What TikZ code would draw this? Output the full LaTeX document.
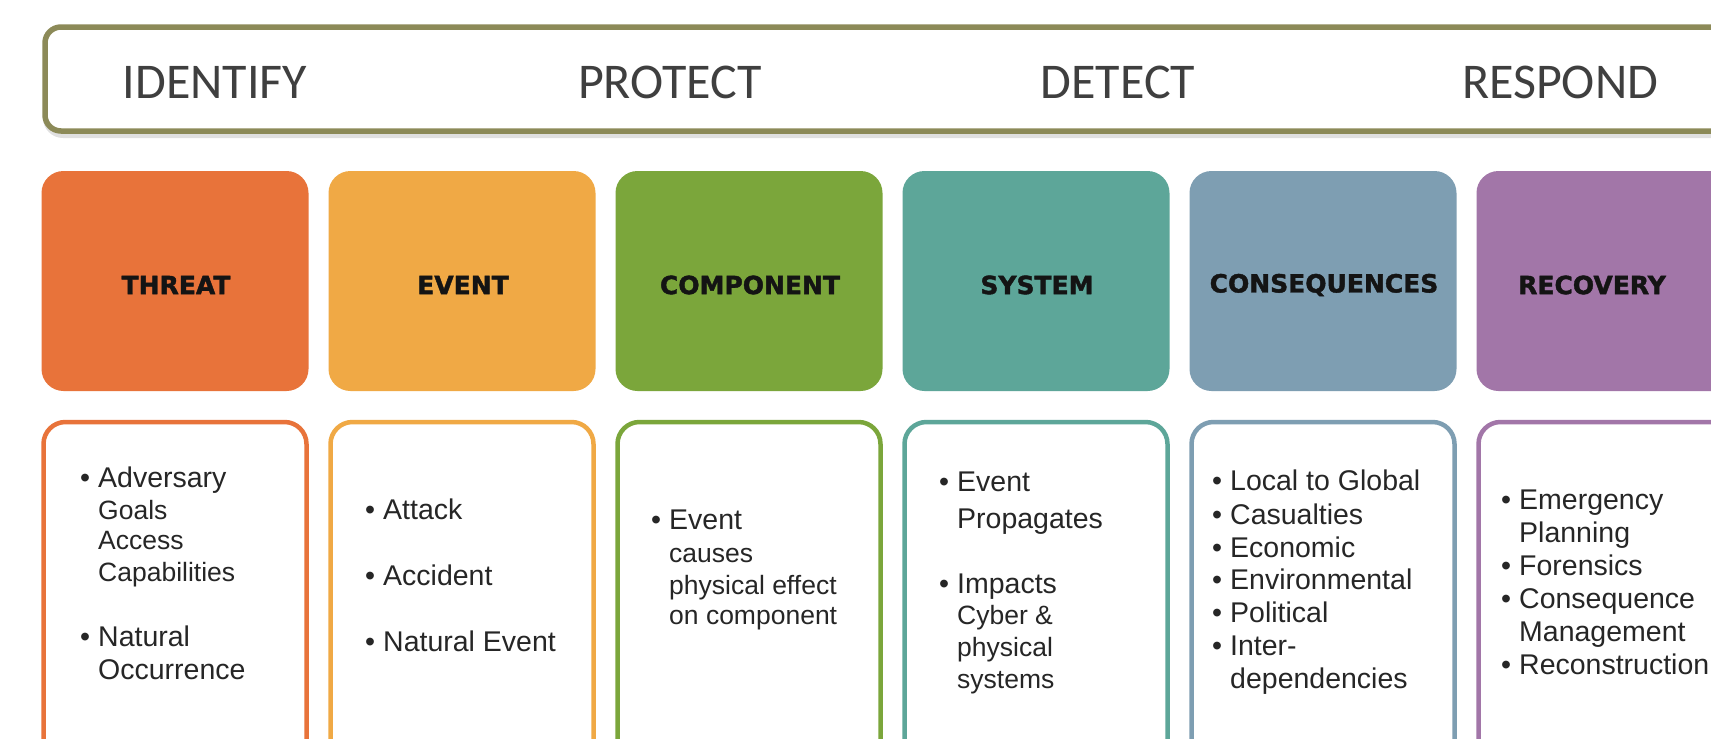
\documentclass[tikz,border=0pt]{standalone}
\usepackage{fontspec}
\setmainfont{Liberation Sans}
\newfontfamily\bandfont{Carlito}
\newfontfamily\headfont{DejaVu Sans Bold}[FakeBold=1.6]

\definecolor{cthreat}{HTML}{E8733A}
\definecolor{cevent}{HTML}{F0A945}
\definecolor{ccomp}{HTML}{7BA63B}
\definecolor{csys}{HTML}{5DA699}
\definecolor{ccons}{HTML}{7E9EB2}
\definecolor{crec}{HTML}{A276A8}
\definecolor{cband}{HTML}{8C8A58}
\definecolor{cbandtxt}{HTML}{3F3F3F}
\definecolor{cbody}{HTML}{262626}
\definecolor{chead}{HTML}{141414}

\newcommand\bul{\llap{•\hspace{8pt}}}

\tikzset{
  band/.style={draw=cband, line width=5.5pt, rounded corners=16pt, fill=white,
    minimum width=1715pt, minimum height=104pt, inner sep=0pt},
  bandlabel/.style={font=\bandfont\fontsize{50}{50}\selectfont, text=cbandtxt, inner sep=0pt},
  headbox/.style={rounded corners=22pt, minimum width=267pt, minimum height=220pt,
    inner sep=0pt},
  headlabel/.style={inner sep=0pt, font=\headfont\fontsize{25}{25}\selectfont, text=chead},
  listbox/.style={draw, line width=4.5pt, rounded corners=22pt, fill=white,
    minimum width=263pt, minimum height=380pt, inner sep=0pt},
  ln/.style={anchor=base west, inner sep=0pt, text=cbody,
    font=\fontsize{28.5}{33}\selectfont},
  sub/.style={anchor=base west, inner sep=0pt, text=cbody,
    font=\fontsize{26.5}{31}\selectfont},
}

\begin{document}
\begin{tikzpicture}[x=1pt, y=-1pt]
\useasboundingbox (0,0) rectangle (1711,739);
\clip (0,0) rectangle (1711,739);
\fill[white] (0,0) rectangle (1711,739);

% framework band with its soft shadow
\draw[black, opacity=0.12, line width=8pt, rounded corners=16pt]
  (47,30) rectangle (1762,134);
\node[band] (band) at (902.5,79) {};
\node[bandlabel] (identify) at (215,82) {IDENTIFY};
\node[bandlabel] (protect)  at (670,82) {PROTECT};
\node[bandlabel] (detect)   at (1118,82) {DETECT};
\node[bandlabel] (respond)  at (1560,82) {RESPOND};

% coloured stage headers
\node[headbox, fill=cthreat] (threat) at (175,281) {};
\node[headbox, fill=cevent]  (event)  at (462,281) {};
\node[headbox, fill=ccomp]   (comp)   at (749,281) {};
\node[headbox, fill=csys]    (sys)    at (1036,281) {};
\node[headbox, fill=ccons]   (cons)   at (1323,281) {};
\node[headbox, fill=crec]    (rec)    at (1610,281) {};

\node[headlabel] (threatlbl) at (176,285) {THREAT};
\node[headlabel] (eventlbl)  at (463,285) {EVENT};
\node[headlabel] (complbl)   at (750,285) {COMPONENT};
\node[headlabel] (syslbl)    at (1037,285) {SYSTEM};
\node[headlabel] (conslbl)   at (1324,285) {CONSEQUENCES};
\node[headlabel] (reclbl)    at (1592,285) {RECOVERY};

% outlined detail boxes
\node[listbox, draw=cthreat] (threatlist) at (175,612) {};
\node[listbox, draw=cevent]  (eventlist)  at (462,612) {};
\node[listbox, draw=ccomp]   (complist)   at (749,612) {};
\node[listbox, draw=csys]    (syslist)    at (1036,612) {};
\node[listbox, draw=ccons]   (conslist)   at (1323,612) {};
\node[listbox, draw=crec]    (reclist)    at (1610,612) {};

% threat
\node[ln]  (t1) at (98,487) {\bul Adversary};
\node[sub] (t2) at (98,519) {Goals};
\node[sub] (t3) at (98,549) {Access};
\node[sub] (t4) at (98,581) {Capabilities};
\node[ln]  (t5) at (98,646) {\bul Natural};
\node[ln]  (t6) at (98,679) {Occurrence};

% event
\node[ln] (e1) at (383,519) {\bul Attack};
\node[ln] (e2) at (383,585) {\bul Accident};
\node[ln] (e3) at (383,651) {\bul Natural Event};

% component
\node[ln]  (c1) at (669,529) {\bul Event};
\node[sub] (c2) at (669,562) {causes};
\node[sub] (c3) at (669,594) {physical effect};
\node[sub] (c4) at (669,624) {on component};

% system
\node[ln]  (s1) at (957,491) {\bul Event};
\node[ln]  (s2) at (957,528) {Propagates};
\node[ln]  (s3) at (957,593) {\bul Impacts};
\node[sub] (s4) at (957,624) {Cyber \&};
\node[sub] (s5) at (957,656) {physical};
\node[sub] (s6) at (957,688) {systems};

% consequences
\node[ln] (q1) at (1230,490) {\bul Local to Global};
\node[ln] (q2) at (1230,524) {\bul Casualties};
\node[ln] (q3) at (1230,557) {\bul Economic};
\node[ln] (q4) at (1230,589) {\bul Environmental};
\node[ln] (q5) at (1230,622) {\bul Political};
\node[ln] (q6) at (1230,655) {\bul Inter-};
\node[ln] (q7) at (1230,688) {dependencies};

% recovery
\node[ln] (r1) at (1519,509) {\bul Emergency};
\node[ln] (r2) at (1519,542) {Planning};
\node[ln] (r3) at (1519,575) {\bul Forensics};
\node[ln] (r4) at (1519,608) {\bul Consequence};
\node[ln] (r5) at (1519,641) {Management};
\node[ln] (r6) at (1519,674) {\bul Reconstruction};
\end{tikzpicture}
\end{document}
